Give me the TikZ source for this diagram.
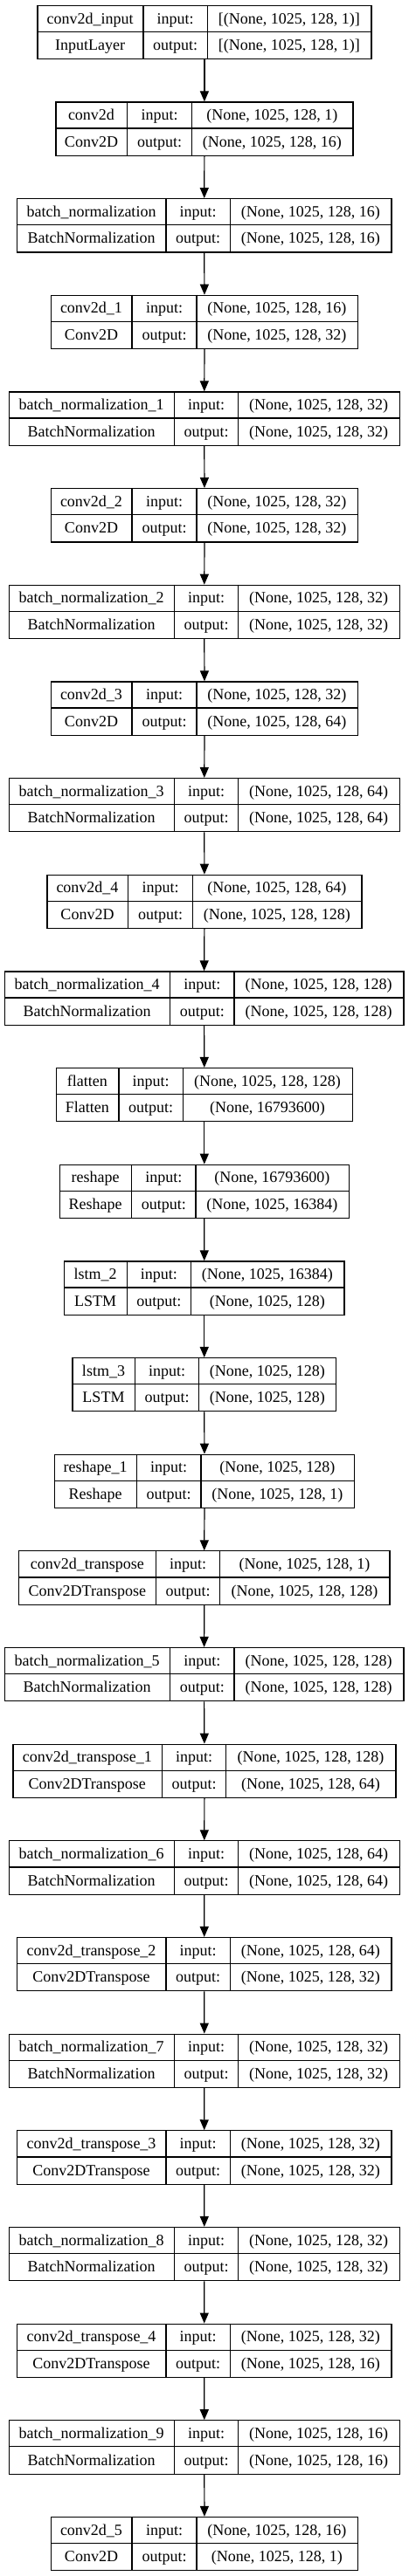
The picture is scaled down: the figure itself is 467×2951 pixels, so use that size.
\documentclass[tikz,border=0pt]{standalone}
\usepackage{fontspec}
\setmainfont{Liberation Serif}
\usetikzlibrary{arrows.meta}

\begin{document}
\begin{tikzpicture}[x=1pt, y=-1pt, line width=1.2pt,
  font=\fontsize{18}{20}\selectfont,
  layerbox/.style={draw, inner sep=0pt, minimum height=61.3pt, anchor=north west},
  cell/.style={anchor=base, inner sep=0pt},
  flow/.style={-{Triangle[length=12pt, width=10pt]}}]
  \useasboundingbox (0,0) rectangle (467,2951);
  % one record per layer: index / left / col1 / col2 / right / name / type / input / output
  \foreach \i/\xl/\xa/\xb/\xr/\lname/\ltype/\lin/\lout in {
    0/42.3/164/237.3/424.3/conv2d\_input/InputLayer/{[(None, 1025, 128, 1)]}/{[(None, 1025, 128, 1)]},
    1/63.3/145.7/219.3/403.3/conv2d/Conv2D/{(None, 1025, 128, 1)}/{(None, 1025, 128, 16)},
    2/19/190/263.3/447.3/batch\_normalization/BatchNormalization/{(None, 1025, 128, 16)}/{(None, 1025, 128, 16)},
    3/58/151/225/408.7/conv2d\_1/Conv2D/{(None, 1025, 128, 16)}/{(None, 1025, 128, 32)},
    4/9.7/199.3/272.7/456.7/batch\_normalization\_1/BatchNormalization/{(None, 1025, 128, 32)}/{(None, 1025, 128, 32)},
    5/58/151/225/408.7/conv2d\_2/Conv2D/{(None, 1025, 128, 32)}/{(None, 1025, 128, 32)},
    6/9.7/199.3/272.7/456.7/batch\_normalization\_2/BatchNormalization/{(None, 1025, 128, 32)}/{(None, 1025, 128, 32)},
    7/58/151/225/408.7/conv2d\_3/Conv2D/{(None, 1025, 128, 32)}/{(None, 1025, 128, 64)},
    8/9.7/199.3/272.7/456.7/batch\_normalization\_3/BatchNormalization/{(None, 1025, 128, 64)}/{(None, 1025, 128, 64)},
    9/53.3/146.7/220.3/413.3/conv2d\_4/Conv2D/{(None, 1025, 128, 64)}/{(None, 1025, 128, 128)},
    10/4.7/194.7/268/461.3/batch\_normalization\_4/BatchNormalization/{(None, 1025, 128, 128)}/{(None, 1025, 128, 128)},
    11/63.7/136/209.3/402.7/flatten/Flatten/{(None, 1025, 128, 128)}/{(None, 16793600)},
    12/67.7/150.7/224/398.7/reshape/Reshape/{(None, 16793600)}/{(None, 1025, 16384)},
    13/73/145.3/218.3/393.3/lstm\_2/LSTM/{(None, 1025, 16384)}/{(None, 1025, 128)},
    14/82.3/154.7/227.7/384/lstm\_3/LSTM/{(None, 1025, 128)}/{(None, 1025, 128)},
    15/62/156.3/230/404.7/reshape\_1/Reshape/{(None, 1025, 128)}/{(None, 1025, 128, 1)},
    16/21/178.7/251.7/445.3/conv2d\_transpose/Conv2DTranspose/{(None, 1025, 128, 1)}/{(None, 1025, 128, 128)},
    17/4.7/194.7/268/461.3/batch\_normalization\_5/BatchNormalization/{(None, 1025, 128, 128)}/{(None, 1025, 128, 128)},
    18/14.3/185.3/258.7/452.3/conv2d\_transpose\_1/Conv2DTranspose/{(None, 1025, 128, 128)}/{(None, 1025, 128, 64)},
    19/9.7/199.3/272.7/456.7/batch\_normalization\_6/BatchNormalization/{(None, 1025, 128, 64)}/{(None, 1025, 128, 64)},
    20/19/190/263.3/447.3/conv2d\_transpose\_2/Conv2DTranspose/{(None, 1025, 128, 64)}/{(None, 1025, 128, 32)},
    21/9.7/199.3/272.7/456.7/batch\_normalization\_7/BatchNormalization/{(None, 1025, 128, 32)}/{(None, 1025, 128, 32)},
    22/19/190/263.3/447.3/conv2d\_transpose\_3/Conv2DTranspose/{(None, 1025, 128, 32)}/{(None, 1025, 128, 32)},
    23/9.7/199.3/272.7/456.7/batch\_normalization\_8/BatchNormalization/{(None, 1025, 128, 32)}/{(None, 1025, 128, 32)},
    24/19/190/263.3/447.3/conv2d\_transpose\_4/Conv2DTranspose/{(None, 1025, 128, 32)}/{(None, 1025, 128, 16)},
    25/9.7/199.3/272.7/456.7/batch\_normalization\_9/BatchNormalization/{(None, 1025, 128, 16)}/{(None, 1025, 128, 16)},
    26/58/151/225/408.7/conv2d\_5/Conv2D/{(None, 1025, 128, 16)}/{(None, 1025, 128, 1)}}{
    \pgfmathsetmacro\yt{5.7+\i*110.66}
    \pgfmathsetmacro\ym{\yt+30.65}
    \pgfmathsetmacro\yb{\yt+61.3}
    \pgfmathsetmacro\w{\xr-\xl}
    \node[layerbox, minimum width=\w pt] (L\i) at (\xl,\yt) {};
    \draw (\xa,\yt) -- (\xa,\yb) (\xb,\yt) -- (\xb,\yb) (\xl,\ym) -- (\xr,\ym);
    \node[cell] (L\i-name) at ({(\xl+\xa)/2}, \yt+21.3) {\lname};
    \node[cell] (L\i-type) at ({(\xl+\xa)/2}, \ym+21.3) {\ltype};
    \node[cell] (L\i-inl) at ({(\xa+\xb)/2}, \yt+21.3) {input:};
    \node[cell] (L\i-outl) at ({(\xa+\xb)/2}, \ym+21.3) {output:};
    \node[cell] (L\i-in) at ({(\xb+\xr)/2}, \yt+21.3) {\lin};
    \node[cell] (L\i-out) at ({(\xb+\xr)/2}, \ym+21.3) {\lout};
  }
  % connectors
  \foreach \i [count=\j from 1] in {0,...,25}
    \draw[flow] (L\i.south) -- (L\j.north);
\end{tikzpicture}
\end{document}
